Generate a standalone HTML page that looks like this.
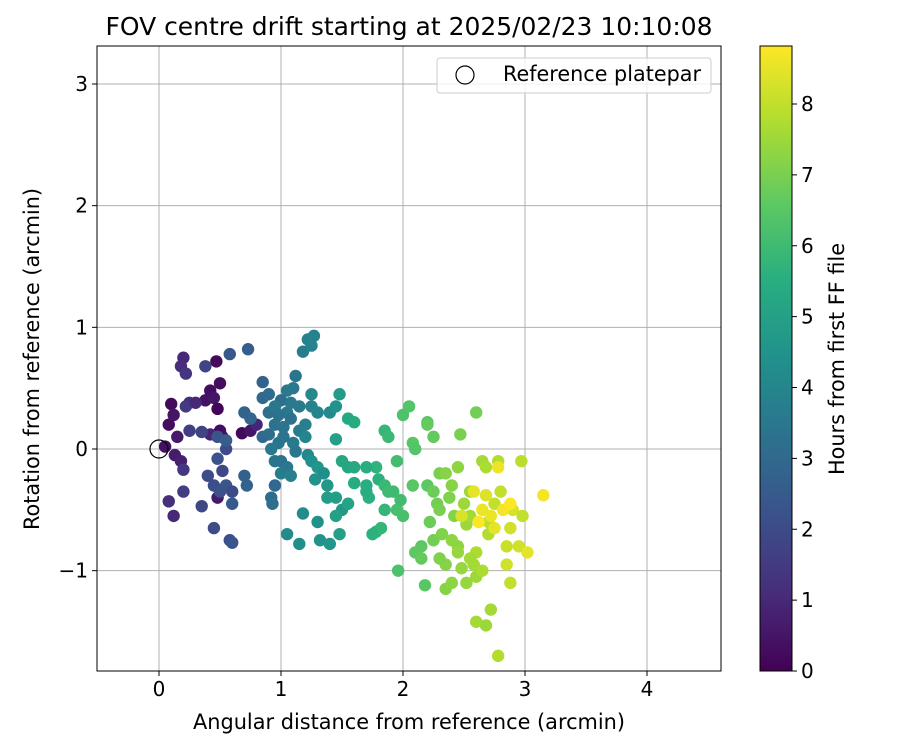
<!DOCTYPE html>
<html><head><meta charset="utf-8"><style>
html,body{margin:0;padding:0;background:#fff;}
svg text{font-family:"DejaVu Sans","Liberation Sans",sans-serif;}
</style></head><body>
<svg id="chart" width="900" height="750" xmlns="http://www.w3.org/2000/svg">
<defs><linearGradient id="vir" x1="0" y1="1" x2="0" y2="0">
<stop offset="0" stop-color="#440154"/><stop offset="0.125" stop-color="#472d7b"/><stop offset="0.25" stop-color="#3b528b"/><stop offset="0.375" stop-color="#2c728e"/><stop offset="0.5" stop-color="#21918c"/><stop offset="0.625" stop-color="#28ae80"/><stop offset="0.75" stop-color="#5ec962"/><stop offset="0.875" stop-color="#addc30"/><stop offset="1" stop-color="#fde725"/>
</linearGradient></defs>
<g id="grid"></g>
<g id="pts"></g>
<g id="axes"></g>
<text x="409" y="35" font-size="25" text-anchor="middle" textLength="607" lengthAdjust="spacingAndGlyphs">FOV centre drift starting at 2025/02/23 10:10:08</text>
<text x="409" y="729" font-size="21" text-anchor="middle" textLength="432" lengthAdjust="spacingAndGlyphs">Angular distance from reference (arcmin)</text>
<text transform="translate(39,359) rotate(-90)" font-size="21" text-anchor="middle" textLength="342" lengthAdjust="spacingAndGlyphs">Rotation from reference (arcmin)</text>
<g>
<rect x="437" y="58" width="274" height="35" rx="3" fill="#fff" fill-opacity="0.8" stroke="#ccc"/>
<circle cx="465" cy="75" r="9" fill="none" stroke="#000" stroke-width="1.2"/>
<text x="503" y="81" font-size="21" textLength="198" lengthAdjust="spacingAndGlyphs">Reference platepar</text>
</g>
<rect x="760" y="46" width="32" height="625" fill="url(#vir)" stroke="#000" stroke-width="1"/>
<g id="cbticks"></g>
<text transform="translate(844,359) rotate(-90)" font-size="21" text-anchor="middle" textLength="232" lengthAdjust="spacingAndGlyphs">Hours from first FF file</text>
</svg>
<script>
const xTicks=[0,1,2,3,4];
const yTicks=[3,2,1,0,-1];
const yTickLabels=["3","2","1","0","\u22121"];
const cbTicks=[0,1,2,3,4,5,6,7,8];
const ptX=[0.08,0.1,0.12,0.15,0.13,0.18,0.05,0.38,0.42,0.47,0.5,0.45,0.48,0.5,0.52,0.48,0.42,0.68,0.75,0.8,0.12,0.08,0.2,0.18,0.22,0.25,0.22,0.3,0.2,0.2,0.25,0.35,0.38,0.35,0.4,0.45,0.5,0.55,0.6,0.45,0.58,0.6,0.48,0.52,0.55,0.58,0.6,0.48,0.55,0.73,0.7,0.72,0.7,0.75,0.85,0.85,0.9,0.85,0.92,0.95,0.93,0.9,0.95,0.98,1.0,1.02,1.05,1.1,1.12,1.15,1.08,1.05,1.0,0.95,0.92,0.95,1.0,1.05,1.08,1.1,1.15,1.2,1.18,1.22,1.27,1.25,1.25,1.3,1.25,1.2,1.22,1.18,1.05,1.15,1.3,1.32,1.4,1.25,1.28,1.3,1.35,1.38,1.4,1.45,1.48,1.38,1.45,1.5,1.45,1.48,1.55,1.5,1.55,1.45,1.55,1.6,1.6,1.7,1.72,1.7,1.78,1.82,1.85,1.8,1.85,1.88,1.78,1.85,1.88,1.92,1.95,1.95,1.98,1.96,2.0,2.05,2.08,2.1,2.08,2.1,2.15,2.18,2.2,2.2,2.2,2.25,2.25,2.22,2.25,2.28,2.3,2.3,2.32,2.35,2.35,2.4,2.38,2.4,2.42,2.45,2.45,2.48,2.47,2.45,2.5,2.52,2.55,2.55,2.52,2.58,2.6,2.6,2.6,2.6,2.65,2.65,2.68,2.7,2.68,2.72,2.7,2.75,2.78,2.78,2.8,2.85,2.85,2.88,2.88,2.9,2.95,2.97,2.98,3.02,3.15,2.75,2.72,2.68,2.65,2.62,2.58,2.78,2.82,2.88,2.48,1.75,1.6,1.7,2.0,2.15,2.3,2.4,2.35,2.55,0.98,1.02,0.9,1.12,1.08];
const ptY=[0.2,0.37,0.28,0.1,-0.05,-0.1,0.02,0.4,0.48,0.72,0.54,0.42,0.33,0.15,0.1,-0.4,0.12,0.13,0.15,0.2,-0.55,-0.43,0.75,0.68,0.62,0.38,0.35,0.38,-0.17,-0.35,0.15,0.14,0.68,-0.47,-0.22,-0.3,-0.35,-0.3,-0.35,-0.65,-0.75,-0.77,-0.08,-0.18,0.0,0.78,-0.45,0.1,0.07,0.82,-0.22,-0.3,0.3,0.25,0.55,0.42,0.45,0.1,-0.4,-0.3,-0.45,0.3,0.2,0.05,-0.1,0.1,0.3,0.5,0.6,0.35,0.25,0.48,0.4,0.35,0.0,-0.1,-0.2,-0.15,-0.22,0.05,0.15,0.2,0.8,0.9,0.93,0.85,0.35,0.3,0.45,0.1,-0.05,-0.53,-0.7,-0.78,-0.6,-0.75,-0.78,-0.1,-0.25,-0.15,-0.2,-0.3,0.3,0.35,0.45,-0.4,-0.4,-0.5,-0.55,-0.7,-0.45,-0.1,-0.15,0.08,0.25,0.22,-0.15,-0.3,-0.4,-0.35,-0.68,-0.65,-0.5,-0.25,-0.3,-0.35,-0.15,0.15,0.1,-0.35,-0.1,-0.5,-0.42,-1.0,0.28,0.35,0.05,0.0,-0.3,-0.85,-0.8,-1.12,0.22,0.2,-0.3,-0.35,0.1,-0.6,-0.75,-0.45,-0.2,-0.5,-0.7,-0.95,-1.15,-1.1,-0.4,-0.3,-0.55,-0.8,-0.85,-0.98,0.12,-0.15,-0.45,-0.62,-0.35,-0.55,-1.1,-0.95,-1.05,0.3,-0.85,-1.42,-1.0,-0.1,-0.15,-0.7,-1.45,-1.32,-0.6,-0.45,-0.1,-1.7,-0.35,-0.8,-0.95,-1.1,-0.65,-0.5,-0.8,-0.1,-0.55,-0.85,-0.38,-0.65,-0.55,-0.38,-0.5,-0.6,-0.35,-0.15,-0.5,-0.45,-0.55,-0.7,-0.28,-0.15,-0.55,-0.9,-0.9,-0.75,-0.2,-0.9,0.28,0.18,0.12,-0.02,0.38];
const ptT=[0.3,0.2,0.5,0.6,0.7,0.8,0.4,0.4,0.3,0.2,0.3,0.5,0.1,0.3,0.4,0.6,0.9,0.2,0.5,0.9,1.0,1.2,1.0,1.1,1.3,1.2,1.5,1.0,1.4,1.6,1.6,1.8,1.8,1.9,2.0,2.1,2.2,2.3,2.0,2.0,2.1,2.3,2.2,1.9,2.0,2.4,2.5,2.3,2.6,2.6,2.7,2.8,2.8,2.9,2.8,3.0,3.1,3.0,3.1,3.0,3.2,3.2,3.3,3.4,3.3,3.4,3.5,3.5,3.4,3.6,3.3,3.6,3.2,3.5,3.6,3.4,3.7,3.5,3.8,3.6,3.7,3.8,3.7,3.8,3.9,3.9,3.9,4.0,4.1,4.0,4.1,4.2,4.2,4.3,4.4,4.5,4.6,4.4,4.5,4.6,4.3,4.7,4.2,4.5,4.8,4.8,4.9,4.7,5.0,5.0,5.1,5.2,5.2,5.0,5.3,5.4,5.3,5.5,5.6,5.5,5.7,5.8,5.8,5.6,5.9,6.0,5.7,5.8,5.9,6.0,6.1,6.2,6.1,6.3,6.3,6.4,6.5,6.4,6.5,6.6,6.6,6.5,6.5,6.7,6.6,6.8,6.7,6.8,6.9,6.9,7.0,7.0,7.1,7.2,7.2,7.3,7.1,7.2,7.2,7.3,7.4,7.4,7.0,7.3,7.5,7.5,7.5,7.6,7.4,7.6,7.5,6.9,7.7,7.6,7.7,7.6,7.7,7.8,7.5,7.6,7.9,8.0,7.8,7.8,8.0,8.1,8.2,8.0,8.2,8.3,8.2,7.9,8.0,8.5,8.7,8.5,8.6,8.4,8.6,8.8,8.5,8.6,8.7,8.8,8.3,5.6,5.4,5.5,6.2,6.7,7.1,7.3,7.2,7.6,3.3,3.4,3.1,3.5,3.6];

const L=97,R=721,T=46,B=671;
const xs=v=>159+v*122, ys=v=>449-v*121.67;
const cs=v=>671-v*(567/8);
const NS="http://www.w3.org/2000/svg";
function mk(tag,attrs,parent){const e=document.createElementNS(NS,tag);for(const k in attrs)e.setAttribute(k,attrs[k]);parent.appendChild(e);return e;}
const stops=["#440154","#472d7b","#3b528b","#2c728e","#21918c","#28ae80","#5ec962","#addc30","#fde725"];
function hex(h){return [1,3,5].map(i=>parseInt(h.substr(i,2),16));}
function vir(t){let f=Math.max(0,Math.min(1,t/8.83))*8;let i=Math.min(7,Math.floor(f));let a=hex(stops[i]),b=hex(stops[i+1]),u=f-i;return "rgb("+a.map((c,k)=>Math.round(c+(b[k]-c)*u)).join(",")+")";}
const grid=document.getElementById('grid'),axes=document.getElementById('axes'),pts=document.getElementById('pts'),cb=document.getElementById('cbticks');
xTicks.forEach(v=>{const x=xs(v);
 const g=mk('line',{x1:x,x2:x,y1:T,y2:B,stroke:'#b0b0b0','stroke-width':1},grid);
 
 mk('line',{x1:x,x2:x,y1:B,y2:B+5,stroke:'#000'},axes);
 const t=mk('text',{x:x,y:B+25,'font-size':20,'text-anchor':'middle'},axes);t.textContent=String(v);
 });
yTicks.forEach((v,i)=>{const y=ys(v);
 const g=mk('line',{x1:L,x2:R,y1:y,y2:y,stroke:'#b0b0b0','stroke-width':1},grid);
 
 mk('line',{x1:L-5,x2:L,y1:y,y2:y,stroke:'#000'},axes);
 const t=mk('text',{x:L-9,y:y+7,'font-size':20,'text-anchor':'end'},axes);t.textContent=yTickLabels[i];
 });
mk('rect',{x:L,y:T,width:R-L,height:B-T,fill:'none',stroke:'#000','stroke-width':1},axes);
const clip=mk('clipPath',{id:'pc'},document.querySelector('defs'));mk('rect',{x:L,y:T,width:R-L,height:B-T},clip);
pts.setAttribute('clip-path','url(#pc)');
ptX.forEach((v,i)=>{const c=mk('circle',{cx:xs(v),cy:ys(ptY[i]),r:6.2,fill:vir(ptT[i])},pts);
 });
const ref=mk('circle',{cx:xs(0),cy:ys(0),r:9,fill:'none',stroke:'#000','stroke-width':1.2},pts);

cbTicks.forEach(v=>{const y=cs(v);mk('line',{x1:792,x2:797,y1:y,y2:y,stroke:'#000'},cb);
 const t=mk('text',{x:801,y:y+7,'font-size':20},cb);t.textContent=String(v);
 });
</script>
</body></html>
